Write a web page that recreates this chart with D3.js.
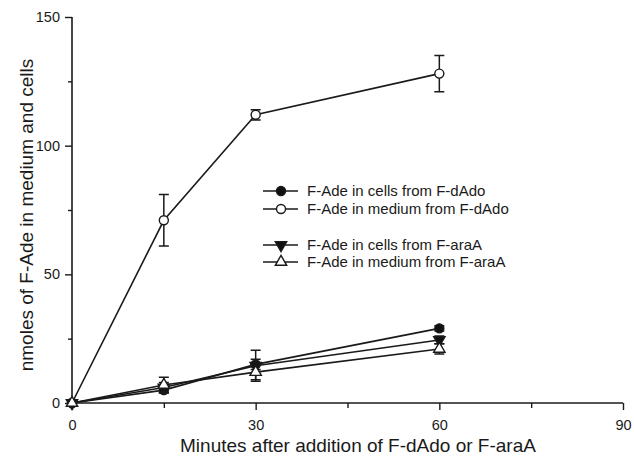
<!DOCTYPE html>
<html>
<head>
<meta charset="utf-8">
<script src="https://cdn.jsdelivr.net/npm/d3@7"></script>
<style>
  body { margin: 0; background: #fff; }
  text { font-family: "Liberation Sans", Arial, sans-serif; fill: #1a1a1a; }
</style>
</head>
<body>
<svg id="chart" width="634" height="457"></svg>
<script>
var minutes = [0, 15, 30, 60];

var cellsDAdo = [0, 5, 15, 29],
    cellsDAdoErr = [0, 1, 2, 1];
var mediumDAdo = [0, 71, 112, 128],
    mediumDAdoErr = [0, 10, 2, 7];
var cellsAraA = [0, 6, 14.5, 24.5],
    cellsAraAErr = [0, 2, 6, 1.5];
var mediumAraA = [0, 7, 12, 21],
    mediumAraAErr = [0, 3, 3, 2];

var xTicks = [0, 30, 60, 90],
    xMinor = [15, 45, 75],
    yTicks = [0, 50, 100, 150],
    yMinor = [25, 75, 125];

var series = [
    {name: 'F-Ade in cells from F-dAdo', values: cellsDAdo, err: cellsDAdoErr, symbol: d3.symbolCircle, fill: '#111', size: 64},
    {name: 'F-Ade in medium from F-dAdo', values: mediumDAdo, err: mediumDAdoErr, symbol: d3.symbolCircle, fill: '#fff', size: 64},
    {name: 'F-Ade in cells from F-araA', values: cellsAraA, err: cellsAraAErr, symbol: 'down', fill: '#111', size: 56},
    {name: 'F-Ade in medium from F-araA', values: mediumAraA, err: mediumAraAErr, symbol: d3.symbolTriangle, fill: '#fff', size: 56}
];

var svg = d3.select('#chart'),
    ink = '#1a1a1a';

var x = d3.scaleLinear().domain([0, 90]).range([72, 623]),
    y = d3.scaleLinear().domain([0, 150]).range([403, 17]);

function shape(s){
    var type = s.symbol === 'down' ? d3.symbolTriangle : s.symbol;
    return d3.symbol().type(type).size(s.size)();
}

function markerTransform(s, px, py){
    return 'translate(' + px + ',' + py + ')' + (s.symbol === 'down' ? ' rotate(180)' : '');
}

// axes
svg.append('g').attr('transform', 'translate(0,' + y(0) + ')')
    .call(d3.axisBottom(x).tickValues(xTicks).tickSize(7).tickPadding(10));
svg.append('g').attr('transform', 'translate(0,' + y(0) + ')')
    .call(d3.axisBottom(x).tickValues(xMinor).tickSize(5).tickFormat(''));

svg.append('g').attr('transform', 'translate(' + x(0) + ',0)')
    .call(d3.axisLeft(y).tickValues(yTicks).tickSize(7).tickPadding(5));
svg.append('g').attr('transform', 'translate(' + x(0) + ',0)')
    .call(d3.axisLeft(y).tickValues(yMinor).tickSize(4).tickFormat(''));

svg.selectAll('.domain').remove();
svg.selectAll('.tick line').attr('stroke', ink).attr('stroke-width', 1.4);
svg.selectAll('.tick text').style('font-size', '14.5px').attr('fill', '#333');

svg.append('line')
    .attr('x1', x(0)).attr('x2', x(90))
    .attr('y1', y(0)).attr('y2', y(0))
    .attr('stroke', ink).attr('stroke-width', 1.6);
svg.append('line')
    .attr('x1', x(0)).attr('x2', x(0))
    .attr('y1', y(0)).attr('y2', y(150))
    .attr('stroke', ink).attr('stroke-width', 1.6);

svg.append('text')
    .attr('x', 358).attr('y', 452)
    .attr('text-anchor', 'middle')
    .style('font-size', '19px')
    .text('Minutes after addition of F-dAdo or F-araA');

svg.append('text')
    .attr('transform', 'translate(33,215) rotate(-90)')
    .attr('text-anchor', 'middle')
    .style('font-size', '19px')
    .text('nmoles of F-Ade in medium and cells');

// lines
var line = d3.line()
    .x(function(d, i){ return x(minutes[i]); })
    .y(function(d){ return y(d); });

var plot = svg.append('g');

series.forEach(function(s){
    var g = plot.append('g');

    g.append('path')
        .attr('d', line(s.values))
        .attr('fill', 'none')
        .attr('stroke', ink)
        .attr('stroke-width', 1.6);

    s.values.forEach(function(v, i){
        var e = s.err[i];
        if(e <= 0) return;
        var px = x(minutes[i]);
        g.append('path')
            .attr('d', 'M' + px + ',' + y(v - e) + 'V' + y(v + e)
                + 'M' + (px - 5) + ',' + y(v + e) + 'H' + (px + 5)
                + 'M' + (px - 5) + ',' + y(v - e) + 'H' + (px + 5))
            .attr('fill', 'none')
            .attr('stroke', ink)
            .attr('stroke-width', 1.5);
    });

    g.selectAll('path.pt')
        .data(s.values)
        .enter()
        .append('path')
        .attr('class', 'pt')
        .attr('d', shape(s))
        .attr('transform', function(d, i){ return markerTransform(s, x(minutes[i]), y(d)); })
        .attr('fill', s.fill)
        .attr('stroke', ink)
        .attr('stroke-width', 1.4);
});

// legend
var legendRows = [191, 209, 245, 262];
var legend = svg.append('g');

series.forEach(function(s, i){
    var ly = legendRows[i];
    legend.append('line')
        .attr('x1', 263).attr('x2', 298)
        .attr('y1', ly).attr('y2', ly)
        .attr('stroke', ink).attr('stroke-width', 1.6);
    legend.append('path')
        .attr('d', shape(s))
        .attr('transform', markerTransform(s, 281, ly))
        .attr('fill', s.fill)
        .attr('stroke', ink)
        .attr('stroke-width', 1.4);
    legend.append('text')
        .attr('x', 307).attr('y', ly)
        .attr('dy', '0.36em')
        .style('font-size', '15px')
        .text(s.name);
});
</script>
</body>
</html>
